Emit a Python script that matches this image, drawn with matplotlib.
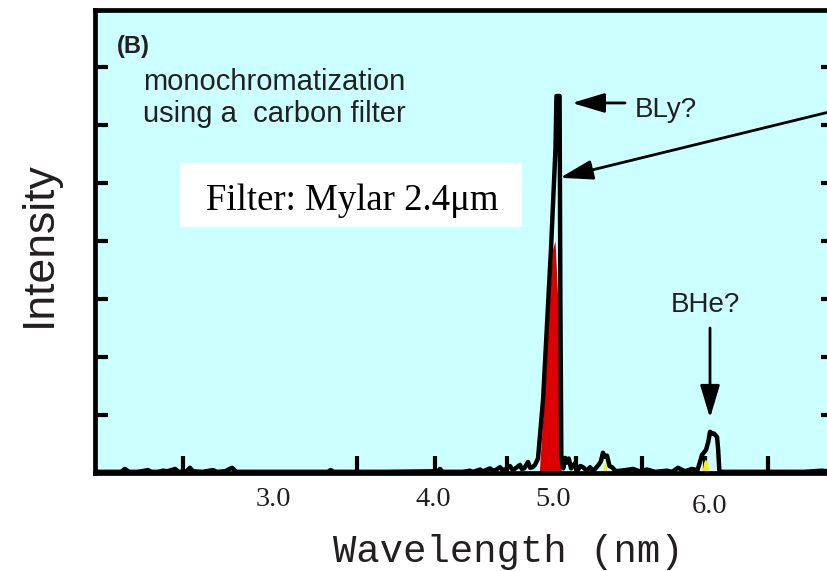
import numpy as np
import matplotlib
matplotlib.use('Agg')
import matplotlib.pyplot as plt
from matplotlib.patches import Rectangle

# measured spectrum (wavelength in nm, intensity in arb. units)
wl = [1.89, 2.05, 2.075, 2.10, 2.15, 2.18, 2.219, 2.24, 2.28, 2.313,
      2.34, 2.388, 2.41, 2.46, 2.481, 2.50, 2.56, 2.625, 2.65, 2.70,
      2.744, 2.77, 2.90, 3.20, 3.344, 3.36, 3.38, 3.70, 4.04, 4.058,
      4.08, 4.25, 4.308, 4.33, 4.35, 4.392, 4.41, 4.43, 4.475, 4.50,
      4.52, 4.558, 4.58, 4.60, 4.642, 4.66, 4.68, 4.725, 4.74, 4.76,
      4.792, 4.81, 4.83, 4.85, 4.875, 4.917, 4.983, 5.016, 5.022, 5.042,
      5.047, 5.053, 5.065, 5.078, 5.089, 5.10, 5.115, 5.140, 5.16, 5.175,
      5.191, 5.215, 5.236, 5.25, 5.265, 5.29, 5.305, 5.318, 5.33, 5.344,
      5.36, 5.376, 5.40, 5.46, 5.51, 5.55, 5.599, 5.65, 5.726, 5.76,
      5.796, 5.84, 5.885, 5.92, 5.935, 5.949, 5.975, 5.99, 6.0, 6.015,
      6.025, 6.045, 6.052, 6.06, 6.6, 6.713, 6.78]
intensity = [0.02, 0.02, 0.07, 0.02, 0.02, 0.03, 0.05, 0.02, 0.02, 0.04,
             0.03, 0.07, 0.02, 0.03, 0.09, 0.03, 0.02, 0.05, 0.02, 0.03,
             0.09, 0.02, 0.02, 0.02, 0.02, 0.05, 0.02, 0.02, 0.03, 0.07,
             0.02, 0.02, 0.04, 0.02, 0.03, 0.06, 0.03, 0.04, 0.08, 0.04,
             0.05, 0.10, 0.05, 0.06, 0.12, 0.06, 0.07, 0.14, 0.07, 0.08,
             0.19, 0.09, 0.10, 0.14, 0.25, 1.26, 3.85, 5.60, 6.50, 6.50,
             3.00, 0.30, 0.08, 0.26, 0.18, 0.25, 0.08, 0.17, 0.06, 0.12,
             0.10, 0.04, 0.10, 0.05, 0.06, 0.14, 0.20, 0.35, 0.28, 0.30,
             0.12, 0.10, 0.03, 0.05, 0.07, 0.03, 0.06, 0.02, 0.04, 0.02,
             0.09, 0.03, 0.07, 0.05, 0.18, 0.31, 0.40, 0.55, 0.71, 0.68,
             0.68, 0.62, 0.40, 0.02, 0.02, 0.04, 0.02]

# carbon-filtered line (red) and weak satellites (yellow)
red_wl = [4.885, 4.925, 4.995, 5.013, 5.03, 5.045, 5.052]
red_int = [0.0, 1.26, 3.85, 4.0, 3.0, 0.8, 0.0]
yel1_wl = [5.316, 5.326, 5.331, 5.336, 5.346]
yel1_int = [0.0, 0.17, 0.22, 0.17, 0.0]
yel2_wl = [5.947, 5.960, 5.970, 5.982, 5.995]
yel2_int = [0.0, 0.19, 0.24, 0.19, 0.0]

tick_labels = ['3.0', '4.0', '5.0', '6.0']
tick_vals = [3.0, 4.0, 5.0, 6.0]
minor_vals = [2.4375, 3.0, 3.525, 4.017, 4.617, 5.146, 5.567, 5.967, 6.369]

# the wavelength axis of the instrument is not linear: piecewise calibration
cal_nm = [0.0, 3.0, 4.0, 5.0, 6.0, 10.0]
cal_pos = [-207.0, 273.0, 433.0, 553.0, 710.0, 1338.0]


def fwd(x):
    return np.interp(x, cal_nm, cal_pos)


def inv(p):
    return np.interp(p, cal_pos, cal_nm)


txt = '#231f20'
fig = plt.figure(figsize=(8.28, 5.71), dpi=100)
ax = fig.add_axes([95 / 828, 98 / 571, 738 / 828, 463 / 571])
ax.set_facecolor('#ccffff')
ax.set_xscale('function', functions=(fwd, inv))
ax.set_xlim(inv(95), inv(833))
ax.set_ylim(0, 463 / 58)

ax.fill_between(red_wl, red_int, color='#dd0000', lw=0, zorder=2)
ax.fill_between(yel1_wl, yel1_int, color='#ffee00', lw=0, zorder=2)
ax.fill_between(yel2_wl, yel2_int, color='#ffee00', lw=0, zorder=2)
ax.plot(wl, intensity, color='k', lw=3.2, zorder=3)

for s in ax.spines.values():
    s.set_linewidth(3.4)

ax.set_yticks(range(1, 8))
ax.tick_params(axis='y', which='both', direction='in', left=True, right=True,
               length=9, width=3, labelleft=False)
ax.set_xticks(tick_vals, labels=tick_labels)
ax.set_xticks(minor_vals, minor=True)
ax.tick_params(axis='x', which='major', length=0, pad=10, labelsize=20.5,
               labelcolor=txt, labelfontfamily='Liberation Serif')
ax.tick_params(axis='x', which='minor', direction='in', length=12, width=3)
ax.xaxis.get_major_ticks()[3].set_pad(15)

ax.set_xlabel('Wavelength (nm)', family='Liberation Mono', fontsize=28, color=txt)
ax.xaxis.set_label_coords((508 - 95) / 738, -0.131)
ax.set_ylabel('Intensity', family='Liberation Sans', fontsize=32, color=txt)
ax.yaxis.set_label_coords(-0.047, 0.495)

ax.text(0.030, 0.907, '(B)', transform=ax.transAxes, fontsize=17,
        fontweight='bold', family='Liberation Sans', color=txt)
ax.text(0.0653, 0.827, 'monochromatization', transform=ax.transAxes,
        fontsize=21, family='Liberation Sans', color=txt, va='baseline')
ax.text(0.0653, 0.758, 'using a  carbon filter', transform=ax.transAxes,
        fontsize=21, family='Liberation Sans', color=txt, va='baseline')

ax.add_patch(Rectangle((0.1156, 0.531), 0.4626, 0.138, transform=ax.transAxes,
                       facecolor='white', edgecolor='none', zorder=4))
ax.text(0.348, 0.568, 'Filter: Mylar 2.4\u03bcm', transform=ax.transAxes,
        fontsize=26.5, family='Liberation Serif', color='k', ha='center',
        va='baseline', zorder=5)

arrow = dict(arrowstyle='-|>,head_length=1.0,head_width=0.3', mutation_scale=20,
             color='k', lw=2, shrinkA=0, shrinkB=0)
ax.annotate('', xy=(5.121, 6.38), xytext=(5.459, 6.38), arrowprops=arrow)
ax.text(5.522, 6.14, 'BLy?', fontsize=20, family='Liberation Sans', color=txt)
ax.annotate('', xy=(5.045, 5.09), xytext=(6.752, 6.22), arrowprops=arrow,
            annotation_clip=False)
ax.annotate('', xy=(6.0, 0.95), xytext=(6.0, 2.5), arrowprops=arrow)
ax.text(5.968, 2.78, 'BHe?', fontsize=20, family='Liberation Sans', color=txt,
        ha='center')

fig.savefig('out.png', dpi=100)
